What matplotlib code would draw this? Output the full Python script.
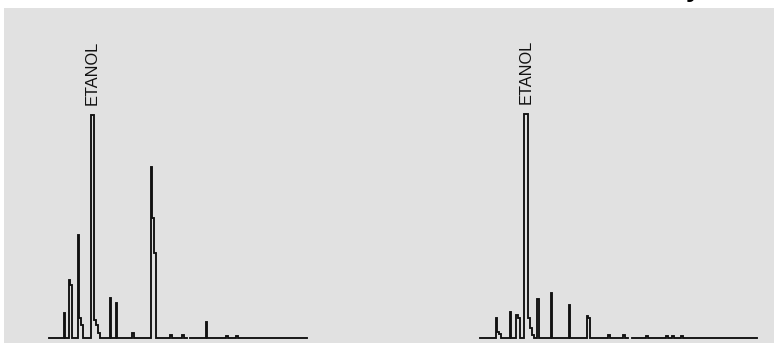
import numpy as np
import matplotlib.pyplot as plt

# Chromatogram A (left): retention time (min), response (a.u.)
rt_a = [1.55, 2.0, 2.9, 4.35, 6.1, 6.7, 8.4, 10.2, 12.2, 13.4, 15.7, 17.8, 18.8]
height_a = [25, 58, 103, 223, 40, 35, 5, 171, 3, 3, 16, 2, 2]
width_a = [0.1, 0.1, 0.1, 0.35, 0.1, 0.1, 0.2, 0.1, 0.2, 0.2, 0.1, 0.2, 0.2]
shoulder_a = [[], [53], [20, 13], [18, 13, 5], [], [], [], [120, 85], [], [], [], [], []]
run_a = (0, 25.8)
gap_a = (13.8, 14.1)

# Chromatogram B (right)
rt_b = [1.6, 3.0, 3.7, 4.6, 5.8, 7.1, 8.9, 10.7, 12.9, 14.4, 16.7, 18.7, 19.3, 20.2]
height_b = [20, 26, 23, 224, 39, 45, 33, 22, 3, 3, 2, 2, 2, 2]
width_b = [0.1, 0.1, 0.15, 0.4, 0.2, 0.1, 0.1, 0.1, 0.2, 0.2, 0.2, 0.2, 0.2, 0.2]
shoulder_b = [[6, 4], [], [20], [20, 10, 3], [], [], [], [20], [], [], [], [], [], []]
run_b = (0, 27.7)
gap_b = (14.8, 15.2)

label = 'ETANOL'
label_a = 3   # index of ethanol peak
label_b = 3


def build_trace(rts, heights, widths, shoulders, run, gap, step=0.2):
    xs, ys = [run[0]], [0]
    gap_done = False
    for rt, h, w, sh in zip(rts, heights, widths, shoulders):
        if not gap_done and rt > gap[0]:
            xs += [gap[0], np.nan, gap[1]]
            ys += [0, np.nan, 0]
            gap_done = True
        xs += [rt - w / 2, rt - w / 2, rt + w / 2]
        ys += [0, h, h]
        cur = rt + w / 2
        for s in sh:
            xs += [cur, cur + step]
            ys += [s, s]
            cur += step
        xs += [cur]
        ys += [0]
    if not gap_done:
        xs += [gap[0], np.nan, gap[1]]
        ys += [0, np.nan, 0]
    xs += [run[1]]
    ys += [0]
    return np.array(xs), np.array(ys)


W, H = 774, 343
fig = plt.figure(figsize=(W / 100, H / 100), dpi=100)
fig.patch.set_facecolor('white')

# grey scan background
bg = fig.add_axes([4 / W, 0, 1 - 4 / W, 1 - 8 / H])
bg.set_facecolor('#e1e1e1')
bg.set_xticks([])
bg.set_yticks([])
for sp in bg.spines.values():
    sp.set_visible(False)

line_kw = dict(color='#111111', lw=1.35, solid_joinstyle='miter', clip_on=False)
txt_kw = dict(rotation=90, ha='center', va='bottom', fontsize=11.8,
              family=['Liberation Sans', 'DejaVu Sans'], color='#111111',
              textcoords='offset points', xytext=(0, 7.5))

panels = [
    (49, 307, rt_a, height_a, width_a, shoulder_a, run_a, gap_a, label_a),
    (480, 757, rt_b, height_b, width_b, shoulder_b, run_b, gap_b, label_b),
]
for x0, x1, rts, hs, ws, sh, run, gap, li in panels:
    ax = fig.add_axes([x0 / W, 5 / H, (x1 - x0) / W, 330 / H])
    ax.patch.set_alpha(0)
    ax.axis('off')
    tx, ty = build_trace(rts, hs, ws, sh, run, gap)
    ax.plot(tx, ty, **line_kw)
    ax.set_xlim(*run)
    ax.set_ylim(0, 330)
    ax.annotate(label, xy=(rts[li], hs[li]), **txt_kw)

# bottom of the cut-off page title
fig.text(693 / W, 1 + 3 / H, 'y', ha='center', va='baseline',
         fontsize=19, fontweight='bold', family=['Liberation Sans', 'DejaVu Sans'])

fig.savefig('out.png', dpi=100)
